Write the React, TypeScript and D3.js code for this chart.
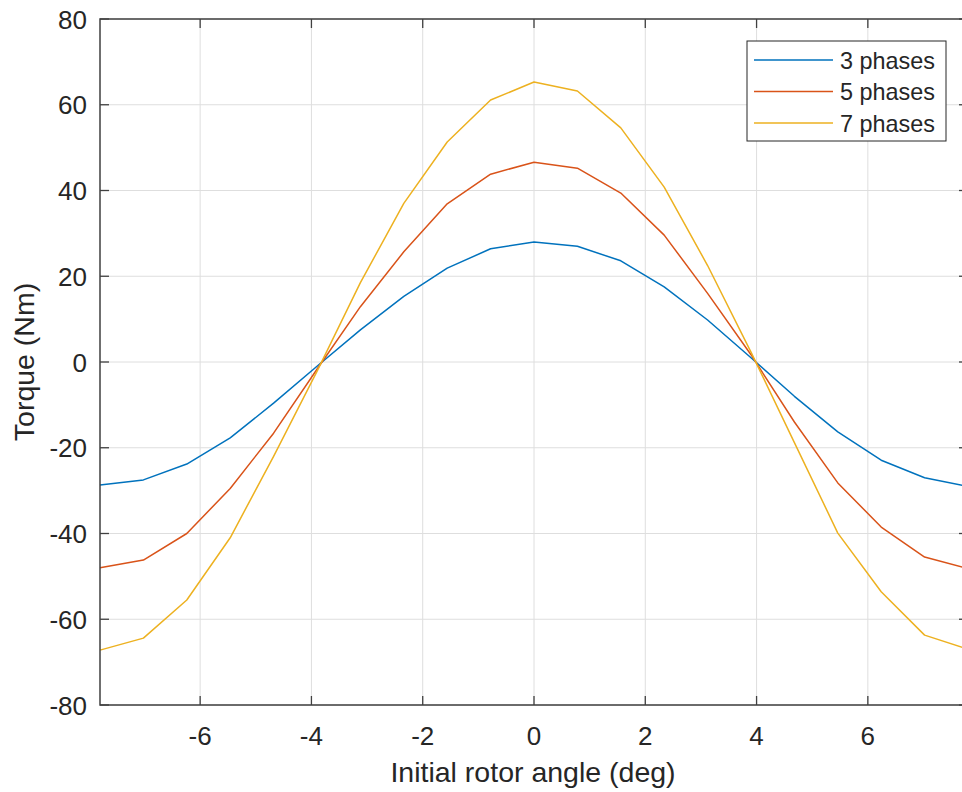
import React, { useEffect, useRef } from "react";
import * as d3 from "d3";

const angles = [
  -7.8, -7.02, -6.24, -5.46, -4.68, -3.9, -3.12, -2.34, -1.56, -0.78, 0, 0.78,
  1.56, 2.34, 3.12, 3.9, 4.68, 5.46, 6.24, 7.02, 7.8,
];
const torque3 = [
  -28.7, -27.5, -23.8, -17.7, -9.6, -1.0, 7.5, 15.3, 21.9, 26.4, 28.0, 27.0,
  23.6, 17.5, 9.8, 1.0, -8.0, -16.3, -22.9, -27.0, -29.0,
];
const torque5 = [
  -48.0, -46.2, -40.0, -29.5, -16.6, -1.7, 12.9, 25.7, 36.9, 43.8, 46.6, 45.2,
  39.4, 29.6, 16.0, 1.7, -14.0, -28.2, -38.5, -45.5, -48.2,
];
const torque7 = [
  -67.2, -64.4, -55.5, -41.0, -22.0, -2.2, 18.5, 37.0, 51.3, 61.1, 65.3, 63.2,
  54.6, 40.8, 22.5, 2.3, -18.8, -39.9, -53.6, -63.7, -67.0,
];
const seriesNames = ["3 phases", "5 phases", "7 phases"];
const seriesColors = ["#0072BD", "#D95319", "#EDB120"];
const xTicks = [-6, -4, -2, 0, 2, 4, 6];
const yTicks = [-80, -60, -40, -20, 0, 20, 40, 60, 80];

const W = 962;
const H = 792;
const FONT = "'Liberation Sans', Arial, Helvetica, sans-serif";

export default function App() {
  const ref = useRef<SVGSVGElement>(null);

  useEffect(() => {
    const svg = d3.select(ref.current).attr("width", W).attr("height", H);
    svg.selectAll("*").remove();

    const left = 100,
      right = 968,
      top = 19,
      bottom = 705;

    const x = d3.scaleLinear().domain([-7.8, 7.8]).range([left, right]);
    const y = d3.scaleLinear().domain([-80, 80]).range([bottom, top]);

    svg.append("rect").attr("width", W).attr("height", H).attr("fill", "#fff");

    // grid
    const grid = svg.append("g").attr("stroke", "#dedede").attr("stroke-width", 1);
    xTicks.forEach((t) => {
      grid
        .append("line")
        .attr("x1", x(t))
        .attr("x2", x(t))
        .attr("y1", top)
        .attr("y2", bottom);
    });
    yTicks.forEach((t) => {
      grid
        .append("line")
        .attr("x1", left)
        .attr("x2", right)
        .attr("y1", y(t))
        .attr("y2", y(t));
    });

    // lines
    const data = [torque3, torque5, torque7];
    const line = d3
      .line<number>()
      .x((_, i) => x(angles[i]))
      .y((d) => y(d));
    data.forEach((vals, k) => {
      svg
        .append("path")
        .datum(vals)
        .attr("d", line)
        .attr("fill", "none")
        .attr("stroke", seriesColors[k])
        .attr("stroke-width", 1.5)
        .attr("stroke-linejoin", "round");
    });

    // box + ticks
    const axisColor = "#404040";
    svg
      .append("rect")
      .attr("x", left)
      .attr("y", top)
      .attr("width", right - left)
      .attr("height", bottom - top)
      .attr("fill", "none")
      .attr("stroke", axisColor)
      .attr("stroke-width", 1.5);

    const tickLen = 9;
    const ticks = svg.append("g").attr("stroke", axisColor).attr("stroke-width", 1.3);
    xTicks.forEach((t) => {
      ticks.append("line").attr("x1", x(t)).attr("x2", x(t)).attr("y1", bottom).attr("y2", bottom - tickLen);
      ticks.append("line").attr("x1", x(t)).attr("x2", x(t)).attr("y1", top).attr("y2", top + tickLen);
    });
    yTicks.forEach((t) => {
      ticks.append("line").attr("x1", left).attr("x2", left + tickLen).attr("y1", y(t)).attr("y2", y(t));
      ticks.append("line").attr("x1", right).attr("x2", right - tickLen).attr("y1", y(t)).attr("y2", y(t));
    });

    // tick labels
    svg
      .append("g")
      .selectAll("text")
      .data(xTicks)
      .enter()
      .append("text")
      .attr("x", (d) => x(d))
      .attr("y", 745)
      .attr("text-anchor", "middle")
      .style("font-family", FONT)
      .style("font-size", "26px")
      .attr("fill", "#262626")
      .text((d) => String(d));

    svg
      .append("g")
      .selectAll("text")
      .data(yTicks)
      .enter()
      .append("text")
      .attr("x", 87)
      .attr("y", (d) => y(d) + 9.5)
      .attr("text-anchor", "end")
      .style("font-family", FONT)
      .style("font-size", "26px")
      .attr("fill", "#262626")
      .text((d) => String(d));

    // axis titles
    svg
      .append("text")
      .attr("x", (left + right) / 2 - 1)
      .attr("y", 782)
      .attr("text-anchor", "middle")
      .style("font-family", FONT)
      .style("font-size", "28.5px")
      .attr("fill", "#262626")
      .text("Initial rotor angle (deg)");

    svg
      .append("text")
      .attr("transform", `translate(34,${y(0)}) rotate(-90)`)
      .attr("text-anchor", "middle")
      .style("font-family", FONT)
      .style("font-size", "28.5px")
      .attr("fill", "#262626")
      .text("Torque (Nm)");

    // legend
    const lg = svg.append("g");
    lg.append("rect")
      .attr("x", 747)
      .attr("y", 41)
      .attr("width", 199)
      .attr("height", 100)
      .attr("fill", "#fff")
      .attr("stroke", "#262626")
      .attr("stroke-width", 1);
    seriesNames.forEach((name, k) => {
      const ly = 60 + k * 31.5;
      lg.append("line")
        .attr("x1", 754)
        .attr("x2", 833)
        .attr("y1", ly)
        .attr("y2", ly)
        .attr("stroke", seriesColors[k])
        .attr("stroke-width", 1.5);
      lg.append("text")
        .attr("x", 840)
        .attr("y", ly + 8.5)
        .style("font-family", FONT)
        .style("font-size", "23.4px")
        .attr("fill", "#262626")
        .text(name);
    });
  }, []);

  return (
    <div style={{ position: "absolute", left: 0, top: 0, width: W, height: H, overflow: "hidden" }}>
      <svg ref={ref} style={{ display: "block" }} />
    </div>
  );
}
